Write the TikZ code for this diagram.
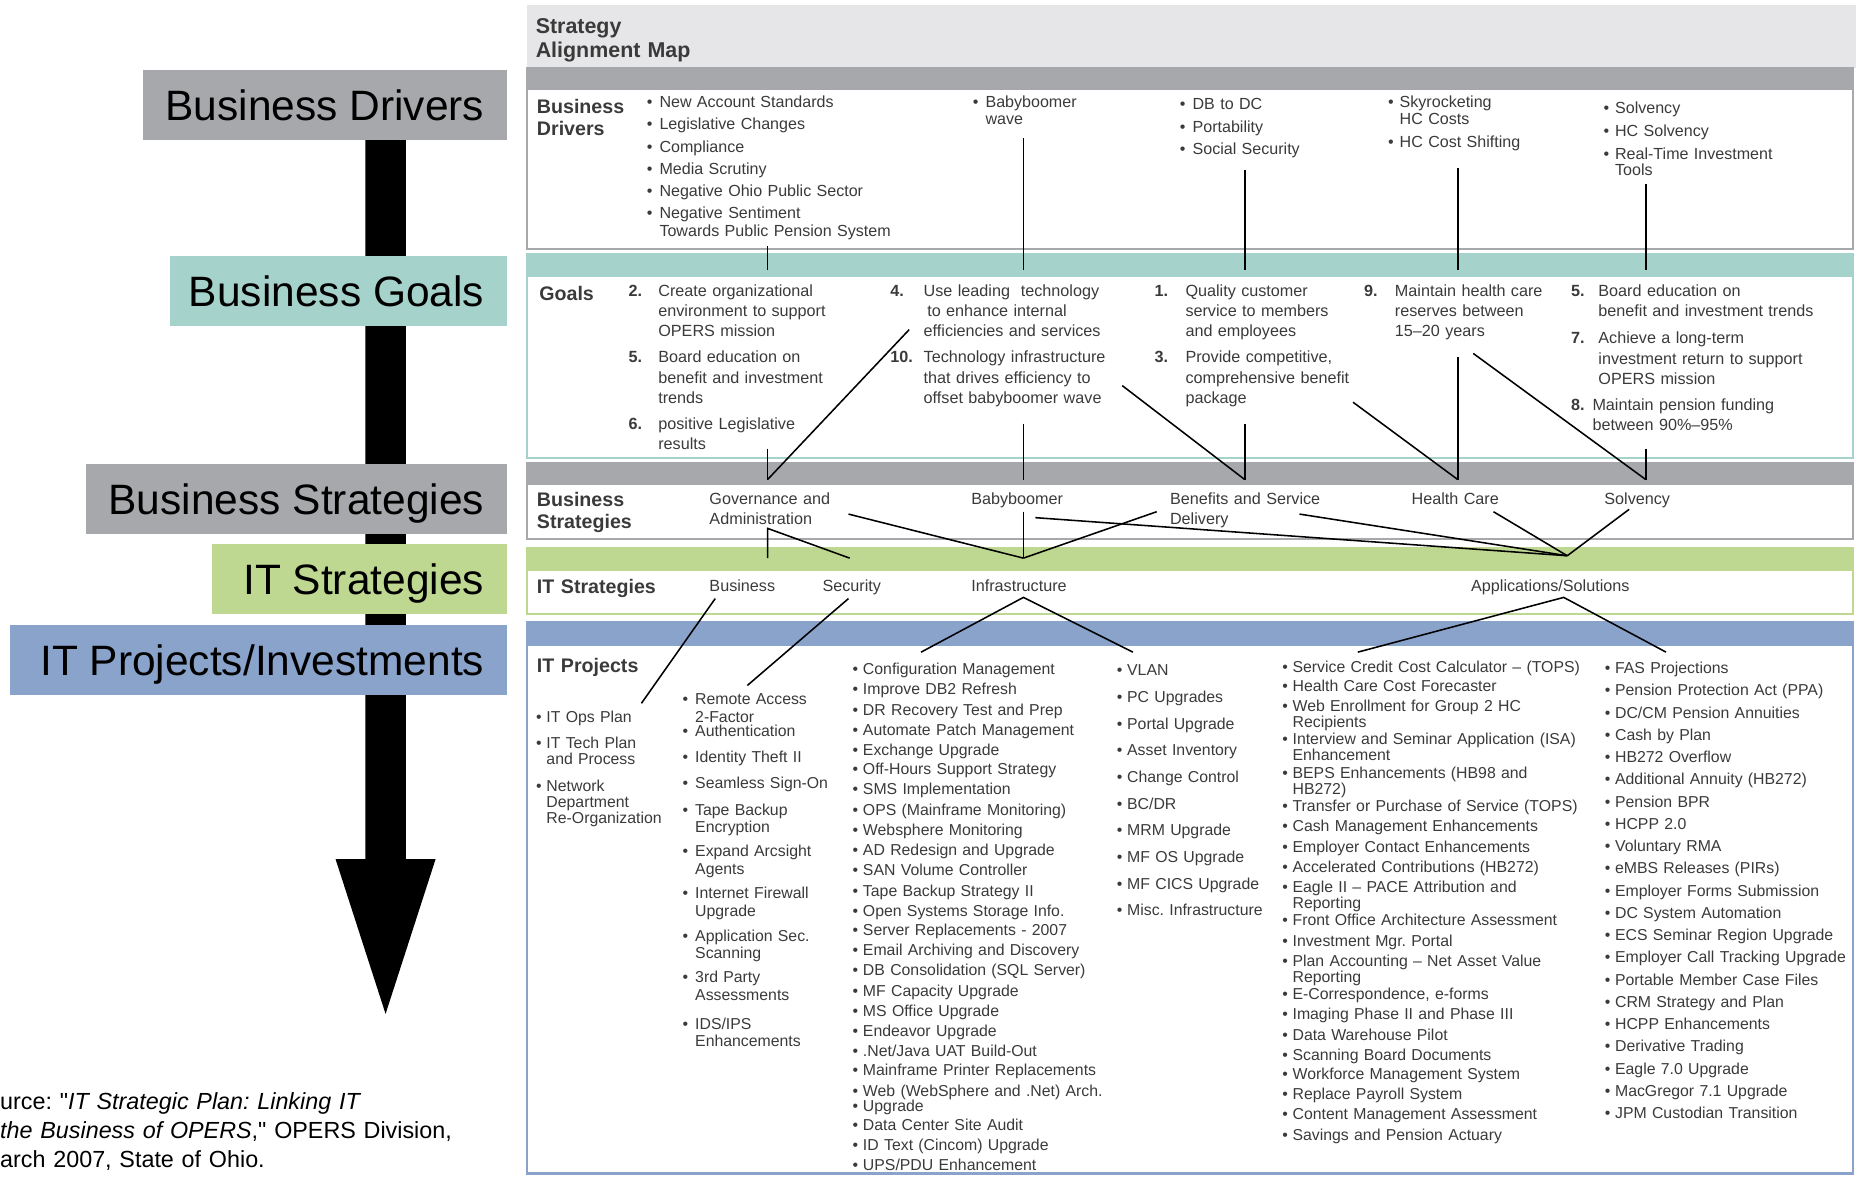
\documentclass[tikz,border=0pt]{standalone}
\usepackage{fontspec}
\setmainfont{Liberation Sans}
\usetikzlibrary{positioning}
\definecolor{bandgray}{HTML}{A7A8AB}
\definecolor{bandteal}{HTML}{A5D2CB}
\definecolor{bandgreen}{HTML}{BFD891}
\definecolor{bandblue}{HTML}{89A3CB}
\definecolor{titlebg}{HTML}{E6E6E8}
\definecolor{ink}{HTML}{3A3A3A}
\tikzset{
  lbl/.style={anchor=east, inner sep=0pt, text height=25.6pt, text depth=0pt, font=\fontsize{35.7}{40}\selectfont},
  drv/.style={anchor=base west, inner sep=0pt, text width=300pt, align=left, text=ink, xshift=-2pt, yshift=-4pt, font=\fontsize{13.5}{15}\selectfont},
  goal/.style={drv, font=\fontsize{13.6}{17}\selectfont},
  num/.style={goal, text width=30pt, font=\fontsize{13.6}{17}\selectfont\bfseries},
  prj/.style={drv, font=\fontsize{13.3}{12.5}\selectfont},
  head/.style={drv, yshift=-1.5pt, font=\fontsize{16.5}{18.5}\selectfont\bfseries},
  src/.style={anchor=base west, inner sep=0pt, text width=420pt, align=left, yshift=-6pt, font=\fontsize{19.6}{24.5}\selectfont},
  link/.style={line width=1.3pt, line join=miter}
}
\begin{document}
\frenchspacing
\begin{tikzpicture}[x=1pt, y=-1pt]
\useasboundingbox (0,0) rectangle (1563,988.4);
% left ladder
\fill (307,110) -- (341,110) -- (341,722) -- (366,722) -- (324,852) -- (282,722) -- (307,722) -- cycle;
\fill[bandgray] (120,59) rectangle (426,118);
\fill[bandteal] (143,215) rectangle (426,274);
\fill[bandgray] (72,390) rectangle (426,449);
\fill[bandgreen] (178,457) rectangle (426,516);
\fill[bandblue] (8,525) rectangle (426,584);
\node[lbl] (lblDrv) at (407,88.5) {Business Drivers};
\node[lbl] (lblGoal) at (407,244.5) {Business Goals};
\node[lbl] (lblStrat) at (407,419.5) {Business Strategies};
\node[lbl] (lblIT) at (407,486.5) {IT Strategies};
\node[lbl] (lblPrj) at (407,554.5) {IT Projects/Investments};
\node[src] (srcNote) at (0,926) {urce: \textquotedbl\textit{IT Strategic Plan: Linking IT}\\\textit{the Business of OPERS},\textquotedbl\ OPERS Division,\\arch 2007, State of Ohio.};
% map frame
\fill[titlebg] (443,4) rectangle (1560,57.5);
\node[head, font=\fontsize{18}{20}\selectfont\bfseries, yshift=-1pt] (ttl) at (452,22) {Strategy\\Alignment Map};
\foreach \ya/\yb/\yc/\cl in {57.5/75.5/209/bandgray, 213.5/232.5/385/bandteal, 389/407.5/453/bandgray, 460.5/479.5/516/bandgreen, 522.5/542.5/986/bandblue}{
  \draw[\cl, line width=2pt] (443,\ya) rectangle (1557,\yc);
  \fill[\cl] (443,\ya) rectangle (1557,\yb);
}
% business drivers
\node[head] (hDrv) at (453,90) {Business\\Drivers};
\foreach \y/\t [count=\i] in {86/New Account Standards, 105/Legislative Changes, 124/Compliance, 143/Media Scrutiny, 161/Negative Ohio Public Sector, 180/{Negative Sentiment\\Towards Public Pension System}}
  \node[drv] (drvA\i) at (556,\y) {\llap{\textbullet\hspace{6pt}}\t};
\node[drv] (drvB1) at (830,86) {\llap{\textbullet\hspace{6pt}}Babyboomer\\wave};
\foreach \y/\t [count=\i] in {88/DB to DC, 107/Portability, 126/Social Security}
  \node[drv] (drvC\i) at (1004,\y) {\llap{\textbullet\hspace{6pt}}\t};
\foreach \y/\t [count=\i] in {86/{Skyrocketing\\HC Costs}, 120/HC Cost Shifting}
  \node[drv] (drvD\i) at (1178,\y) {\llap{\textbullet\hspace{5pt}}\t};
\foreach \y/\t [count=\i] in {91/Solvency, 111/HC Solvency, 130/{Real-Time Investment\\Tools}}
  \node[drv, font=\fontsize{13.5}{13.5}\selectfont] (drvE\i) at (1359,\y) {\llap{\textbullet\hspace{5pt}}\t};
% goals
\node[head] (hGoal) at (455,247) {Goals};
\foreach \n/\xn/\xt/\y/\t [count=\i] in {
  2./530/555/245/{Create organizational\\environment to support\\OPERS mission},
  5./530/555/301/{Board education on\\benefit and investment\\trends},
  6./530/555/357/{positive Legislative\\results},
  4./750/778/245/{Use leading \ technology\\\hspace*{3pt}to enhance internal\\efficiencies and services},
  10./750/778/301/{Technology infrastructure\\that drives efficiency to\\offset babyboomer wave},
  1./972/998/245/{Quality customer\\service to members\\and employees},
  3./972/998/301/{Provide competitive,\\comprehensive benefit\\package},
  9./1148/1174/245/{Maintain health care\\reserves between\\15--20 years},
  5./1322/1345/245/{Board education on\\benefit and investment trends},
  7./1322/1345/285/{Achieve a long-term\\investment return to support\\OPERS mission},
  8./1322/1340/341/{Maintain pension funding\\between 90\%--95\%}}{
  \node[num] (gn\i) at (\xn,\y) {\n};
  \node[goal] (g\i) at (\xt,\y) {\t};
}
% business strategies
\node[head] (hStrat) at (453,420) {Business\\Strategies};
\foreach \x/\t [count=\i] in {598/{Governance and\\Administration}, 818/Babyboomer, 985/{Benefits and Service\\Delivery}, 1188/Health Care, 1350/Solvency}
  \node[goal] (bs\i) at (\x,420) {\t};
% IT strategies
\node[head] (hIT) at (453,493) {IT Strategies};
\foreach \x/\t [count=\i] in {598/Business, 693/Security, 818/Infrastructure, 1238/{Applications/Solutions}}
  \node[goal] (its\i) at (\x,493) {\t};
% IT projects
\node[head] (hPrj) at (453,560) {IT Projects};
\foreach \y/\t [count=\i] in {603/IT Ops Plan, 625/{IT Tech Plan\\and Process}, 661/{Network\\Department\\Re-Organization}}
  \node[prj, font=\fontsize{13.3}{13.7}\selectfont] (pA\i) at (461,\y) {\llap{\textbullet\hspace{4pt}}\t};
\foreach \y/\t [count=\i] in {588/{Remote Access\\2-Factor}, 615/Authentication, 637/Identity Theft II, 659/Seamless Sign-On, 681/{Tape Backup\\Encryption}, 716/{Expand Arcsight\\Agents}, 751/{Internet Firewall\\Upgrade}, 787/{Application Sec.\\Scanning}, 822/{3rd Party\\Assessments}, 861/{IDS/IPS\\Enhancements}}
  \node[prj, font=\fontsize{13.3}{14.8}\selectfont] (pB\i) at (586,\y) {\llap{\textbullet\hspace{6pt}}\t};
\foreach \y/\t [count=\i] in {563/Configuration Management, 580/Improve DB2 Refresh, 597/DR Recovery Test and Prep, 614/Automate Patch Management, 631/Exchange Upgrade, 647/Off-Hours Support Strategy, 664/SMS Implementation, 681/OPS (Mainframe Monitoring), 698/Websphere Monitoring, 715/AD Redesign and Upgrade, 732/SAN Volume Controller, 749/Tape Backup Strategy II, 766/Open Systems Storage Info., 782/Server Replacements - 2007, 799/Email Archiving and Discovery, 816/DB Consolidation (SQL Server), 833/MF Capacity Upgrade, 850/MS Office Upgrade, 867/Endeavor Upgrade, 884/{.Net/Java UAT Build-Out}, 900/Mainframe Printer Replacements, 917/Web (WebSphere and .Net) Arch., 930/Upgrade, 946/Data Center Site Audit, 963/ID Text (Cincom) Upgrade, 980/{UPS/PDU Enhancement}}
  \node[prj] (pC\i) at (727,\y) {\llap{\textbullet\hspace{4pt}}\t};
\foreach \t [count=\i from 0] in {VLAN, PC Upgrades, Portal Upgrade, Asset Inventory, Change Control, {BC/DR}, MRM Upgrade, MF OS Upgrade, MF CICS Upgrade, Misc. Infrastructure}
  \node[prj] (pD\i) at (949,564+22.4*\i) {\llap{\textbullet\hspace{4pt}}\t};
\foreach \y/\t [count=\i] in {561/Service Credit Cost Calculator -- (TOPS), 577/Health Care Cost Forecaster, 594/{Web Enrollment for Group 2 HC\\Recipients}, 622/{Interview and Seminar Application (ISA)\\Enhancement}, 650/{BEPS Enhancements (HB98 and\\HB272)}, 678/Transfer or Purchase of Service (TOPS), 695/Cash Management Enhancements, 712/Employer Contact Enhancements, 729/Accelerated Contributions (HB272), 746/{Eagle II -- PACE Attribution and\\Reporting}, 774/Front Office Architecture Assessment, 791/Investment Mgr. Portal, 808/{Plan Accounting -- Net Asset Value\\Reporting}, 836/{E-Correspondence, e-forms}, 853/Imaging Phase II and Phase III, 870/Data Warehouse Pilot, 887/Scanning Board Documents, 903/Workforce Management System, 920/Replace Payroll System, 937/Content Management Assessment, 954/Savings and Pension Actuary}
  \node[prj, font=\fontsize{13.3}{12}\selectfont] (pE\i) at (1088,\y) {\llap{\textbullet\hspace{4pt}}\t};
\foreach \t [count=\i from 0] in {FAS Projections, Pension Protection Act (PPA), {DC/CM Pension Annuities}, Cash by Plan, HB272 Overflow, Additional Annuity (HB272), Pension BPR, HCPP 2.0, Voluntary RMA, eMBS Releases (PIRs), Employer Forms Submission, DC System Automation, ECS Seminar Region Upgrade, Employer Call Tracking Upgrade, Portable Member Case Files, CRM Strategy and Plan, HCPP Enhancements, Derivative Trading, Eagle 7.0 Upgrade, MacGregor 7.1 Upgrade, JPM Custodian Transition}
  \node[prj] (pF\i) at (1359,562+18.7*\i) {\llap{\textbullet\hspace{4pt}}\t};
% drivers to goals
\foreach \x/\y [count=\i] in {645/207, 860/116, 1046/143, 1225/141, 1383/155}{
  \coordinate (dOut\i) at (\x,\y);
  \coordinate (gIn\i) at (\x,227);
  \draw[link] (dOut\i) -- (gIn\i);
}
% goals to business strategies
\foreach \x/\y [count=\i] in {645/377, 860/356, 1046/356, 1225/300, 1383/377}{
  \coordinate (gOut\i) at (\x,\y);
  \coordinate (sIn\i) at (\x,403);
  \draw[link] (gOut\i) -- (sIn\i);
}
\foreach \x/\y/\j in {764/277/1, 943/324/3, 1137/338/4, 1238/297/5}{
  \coordinate (gX\j) at (\x,\y);
  \draw[link] (gX\j) -- (sIn\j);
}
% business strategies to IT strategies
\coordinate (sGov) at (645,444);
\coordinate (tBus) at (645,469);
\coordinate (tSec) at (714,469);
\coordinate (tInf) at (860,469);
\coordinate (tApp) at (1317,467);
\draw[link] (tBus) -- (sGov) -- (tSec);
\foreach \x/\y [count=\i] in {860/430, 713/432, 972/430}{
  \coordinate (sInf\i) at (\x,\y);
  \draw[link] (sInf\i) -- (tInf);
}
\foreach \x/\y [count=\i] in {870/435, 1092/432, 1255/430, 1369/428}{
  \coordinate (sApp\i) at (\x,\y);
  \draw[link] (sApp\i) -- (tApp);
}
% IT strategies to projects
\coordinate (oBus) at (601,503);
\coordinate (oSec) at (713,503);
\coordinate (oInf) at (860,502);
\coordinate (oApp) at (1314,502);
\coordinate (pOps) at (539,591);
\coordinate (pRem) at (628,576);
\coordinate (pCfg) at (774,548);
\coordinate (pVlan) at (952,548);
\coordinate (pSvc) at (1141,548);
\coordinate (pFas) at (1400,548);
\draw[link] (oBus) -- (pOps);
\draw[link] (oSec) -- (pRem);
\draw[link] (pCfg) -- (oInf) -- (pVlan);
\draw[link] (pSvc) -- (oApp) -- (pFas);
\end{tikzpicture}
\end{document}
